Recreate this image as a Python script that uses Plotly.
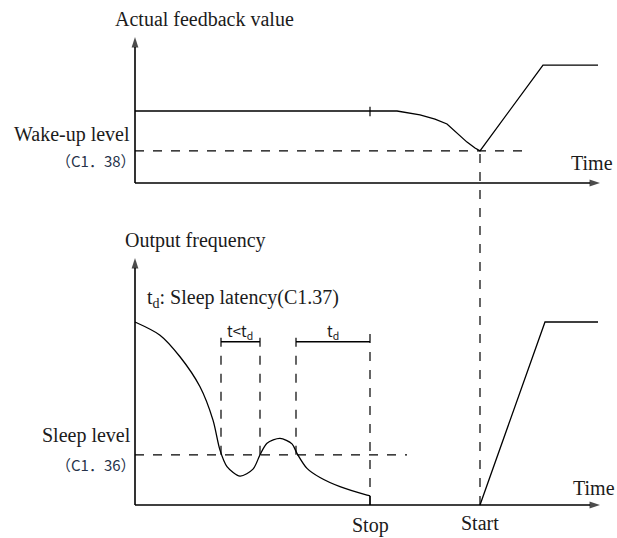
import plotly.graph_objects as go

# ---------------- data (time units, value units) ----------------
# Upper panel: actual feedback value (%)
fb_t = [0, 23.5, 26.2, 28.5, 30.0, 31.2, 32.2, 33.2, 34.0, 34.5, 40.8, 46.3]
fb_v = [49.3, 49.3, 49.3, 46.6, 43.8, 40.4, 34.5, 28.0, 24.0, 22.0, 80.8, 80.8]
wake_level = 22.0
wake_dash_end = 39.5
tick_t = 23.5

# Lower panel: output frequency (Hz)
freq_t = [0, 2.5, 4.5, 6.5, 7.8, 8.5, 9.2, 10.5, 11.8, 12.5, 13.2, 14.5,
          15.7, 16.2, 17.2, 18.5, 20.5, 23.2, 23.5]
freq_f = [50.0, 46.4, 40.5, 32.3, 23.2, 15.0, 10.5, 7.9, 9.8, 13.7, 16.9, 18.2,
          16.7, 14.1, 10.0, 7.5, 5.0, 2.7, 2.5]
sleep_level = 13.7
sleep_dash_end = 27.2
restart_t = [34.5, 41.0, 46.3]
restart_f = [0, 50.0, 50.0]

# bracket / timing marks
win1 = [8.6, 12.5]     # t < td
win2 = [16.1, 23.5]    # td
bracket_top = 47.8
bracket_f = 44.6

stop_t = 23.5
start_t = 34.5

# axis extents
x_end = 46.5
top_y_end = 100
bot_y_end = 67.5

# axis ranges (full canvas)
x_range = [-13.5, 48.2]
top_range = [-243.15, 125.34]
bot_range = [-9.016, 137.98]


def top_to_bot(v):
    """map a value on the upper axis to the lower axis (both span the full canvas)"""
    frac = (v - top_range[0]) / (top_range[1] - top_range[0])
    return bot_range[0] + frac * (bot_range[1] - bot_range[0])


SERIF = "Liberation Serif"
CJK = "Noto Sans CJK SC"
INK = "#1b1b1b"

fig = go.Figure()

line = dict(color="black", width=1.3)
fig.add_trace(go.Scatter(x=fb_t, y=fb_v, mode="lines", yaxis="y2", line=line,
                         hoverinfo="skip"))
fig.add_trace(go.Scatter(x=freq_t, y=freq_f, mode="lines",
                         line=dict(color="black", width=1.3, shape="spline", smoothing=0.8),
                         hoverinfo="skip"))
fig.add_trace(go.Scatter(x=[freq_t[-1], freq_t[-1]], y=[freq_f[-1], 0], mode="lines",
                         line=line, hoverinfo="skip"))
fig.add_trace(go.Scatter(x=restart_t, y=restart_f, mode="lines", line=line,
                         hoverinfo="skip"))


def axis_arrow(xs, ys, yaxis):
    fig.add_trace(go.Scatter(
        x=xs, y=ys, mode="lines+markers", yaxis=yaxis, hoverinfo="skip",
        line=dict(color="black", width=1.6),
        marker=dict(symbol="arrow", size=[0, 11], angleref="previous", color="black",
                    line=dict(width=0))))


axis_arrow([0, 0], [0, top_y_end], "y2")
axis_arrow([0, x_end], [0, 0], "y2")
axis_arrow([0, 0], [0, bot_y_end], "y")
axis_arrow([0, x_end], [0, 0], "y")

dash = dict(color="black", width=1.2, dash="dash")
shapes = [
    # wake-up level
    dict(type="line", xref="x", yref="y2", x0=0, x1=wake_dash_end, y0=wake_level, y1=wake_level, line=dash),
    # tick on feedback line
    dict(type="line", xref="x", yref="y2", x0=tick_t, x1=tick_t, y0=fb_v[0] - 3.5, y1=fb_v[0] + 3, line=dict(color="black", width=1.2)),
    # sleep level
    dict(type="line", xref="x", yref="y", x0=0, x1=sleep_dash_end, y0=sleep_level, y1=sleep_level, line=dash),
    # window verticals
    dict(type="line", xref="x", yref="y", x0=win1[0], x1=win1[0], y0=sleep_level, y1=bracket_top, line=dash),
    dict(type="line", xref="x", yref="y", x0=win1[1], x1=win1[1], y0=sleep_level, y1=bracket_top, line=dash),
    dict(type="line", xref="x", yref="y", x0=win2[0], x1=win2[0], y0=sleep_level, y1=bracket_top, line=dash),
    dict(type="line", xref="x", yref="y", x0=win2[1], x1=win2[1], y0=0, y1=bracket_top, line=dash),
    # brackets
    dict(type="line", xref="x", yref="y", x0=win1[0], x1=win1[1], y0=bracket_f, y1=bracket_f, line=dict(color="black", width=1.4)),
    dict(type="line", xref="x", yref="y", x0=win2[0], x1=win2[1], y0=bracket_f, y1=bracket_f, line=dict(color="black", width=1.4)),
    # start line across both panels
    dict(type="line", xref="x", yref="y", x0=start_t, x1=start_t, y0=0, y1=top_to_bot(wake_level), line=dash),
]

ann = []


def label(x, y, text, yref, size=20, family=SERIF, xanchor="center", color=INK):
    ann.append(dict(x=x, y=y, xref="x", yref=yref, text=text, showarrow=False,
                    xanchor=xanchor, yanchor="middle",
                    font=dict(family=family, size=size, color=color)))


label(6.9, 112.3, "Actual feedback value", "y2")
label(-0.3, 32.9, "Wake-up level", "y2", xanchor="right")
label(0.3, 15.1, "（C1．38）", "y2", size=15, family=CJK, xanchor="right", color="#26324a")
label(45.7, 13.7, "Time", "y2")

label(6.0, 72.4, "Output frequency", "y")
label(1.0, 56.3, "t<sub>d</sub>: Sleep latency(C1.37)", "y", xanchor="left")
label(10.5, 47.4, "t&lt;t<sub>d</sub>", "y", size=15, family=CJK)
label(19.8, 47.4, "t<sub>d</sub>", "y", size=15, family=CJK)
label(-0.2, 19.1, "Sleep level", "y", xanchor="right")
label(0.3, 11.2, "（C1．36）", "y", size=15, family=CJK, xanchor="right", color="#26324a")
label(45.9, 4.6, "Time", "y")
label(stop_t, -5.5, "Stop", "y")
label(start_t, -4.9, "Start", "y")

fig.update_layout(
    width=617, height=538,
    margin=dict(l=0, r=0, t=0, b=0),
    paper_bgcolor="white", plot_bgcolor="white",
    showlegend=False,
    xaxis=dict(range=x_range, visible=False, fixedrange=True),
    yaxis=dict(range=bot_range, visible=False, fixedrange=True),
    yaxis2=dict(range=top_range, visible=False, fixedrange=True, overlaying="y"),
    shapes=shapes,
    annotations=ann,
)

fig.write_html("out.html", config={"displayModeBar": False},
               post_script="document.body.style.margin='0';document.body.style.overflow='hidden';")
